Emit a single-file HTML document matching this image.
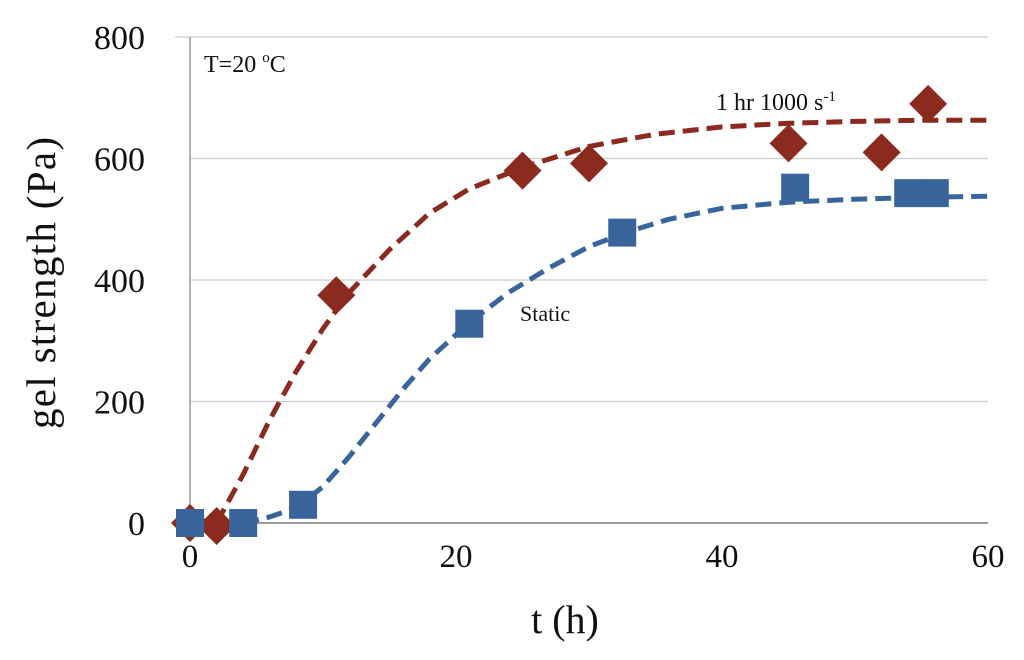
<!DOCTYPE html>
<html><head><meta charset="utf-8"><style>
body{margin:0;background:#fff;}
svg text{font-family:"Liberation Serif",serif;fill:#111;}
</style></head><body>
<svg width="1024" height="655" viewBox="0 0 1024 655">
<g id="grid"></g><g id="marks"></g><g id="curves"></g><g id="labels"></g>
<text x="204" y="72" font-size="24">T=20 <tspan font-size="15" dy="-10">o</tspan><tspan dy="10">C</tspan></text>
<text x="716" y="110" font-size="24">1 hr 1000 s<tspan font-size="15" dy="-9">-1</tspan></text>
<text x="520" y="321" font-size="22">Static</text>
<text x="565" y="633" font-size="40" text-anchor="middle">t (h)</text>
<text transform="translate(55,283) rotate(-90)" font-size="41" text-anchor="middle" textLength="292">gel strength (Pa)</text>
</svg>
<script>
const yTicks=[0,200,400,600,800];
const xTicks=[0,20,40,60];
const shearT=[0,2,11,25,30,45,52,55.5];
const shearG=[0,-5,375,580,592,625,610,690];
const staticT=[0,4,8.5,21,32.5,45.5,54,56];
const staticG=[0,0,30,328,478,552,543,543];
const shearFitT=[2,4,6,8,10,12,15,18,21,25,30,35,40,45,50,55,60];
const shearFitG=[0,80,170,250,320,380,450,510,550,585,620,640,652,658,661,663,663];
const staticFitT=[4,6,8,10,12,14,16,18,21,24,27,30,33,36,40,45,50,55,60];
const staticFitG=[0,10,25,60,110,165,220,270,330,380,420,455,480,500,518,528,533,536,538];
const NS="http://www.w3.org/2000/svg";
const X=t=>190+t*(988-190)/60;
const Y=v=>523-v*(523-37)/800;
function mk(tag,at,p){const e=document.createElementNS(NS,tag);for(const k in at)e.setAttribute(k,at[k]);document.getElementById(p).appendChild(e);return e;}
yTicks.forEach(v=>{
 const l=mk('line',{x1:v===800?175:190,x2:988,y1:Y(v),y2:Y(v),stroke:v===0?'#999':'#ccc','stroke-width':v===0?2:1.2},'grid');
 
 
 const t=mk('text',{x:145,y:Y(v)+12,'font-size':34,'text-anchor':'end'},'labels');t.textContent=v;
 
 
});
const ax=mk('line',{x1:190,x2:190,y1:37,y2:523,stroke:'#999','stroke-width':1.5},'grid');


xTicks.forEach(v=>{
 const t=mk('text',{x:X(v),y:567,'font-size':33,'text-anchor':'middle'},'labels');t.textContent=v;
 
 
});
function curve(ts,gs,col,name){
 const d=ts.map((t,i)=>(i?'L':'M')+X(t).toFixed(1)+','+Y(gs[i]).toFixed(1)).join(' ');
 const p=mk('path',{d:d,fill:'none',stroke:col,'stroke-width':5,'stroke-dasharray':'16 8','stroke-linejoin':'round'},'curves');
 
 
}
curve(shearFitT,shearFitG,'#8b2a1f','sheared-fit-curve');
curve(staticFitT,staticFitG,'#3a659c','static-fit-curve');
shearT.forEach((t,i)=>{
 const x=X(t),y=Y(shearG[i]),r=19;
 const p=mk('polygon',{points:`${x},${y-r} ${x+r},${y} ${x},${y+r} ${x-r},${y}`,fill:'#8b2a1f'},'marks');
 
 
});
staticT.forEach((t,i)=>{
 const x=X(t),y=Y(staticG[i]),s=28;
 const p=mk('rect',{x:x-s/2,y:y-s/2,width:s,height:s,fill:'#3a659c'},'marks');
 
 
});
</script>
</body></html>
